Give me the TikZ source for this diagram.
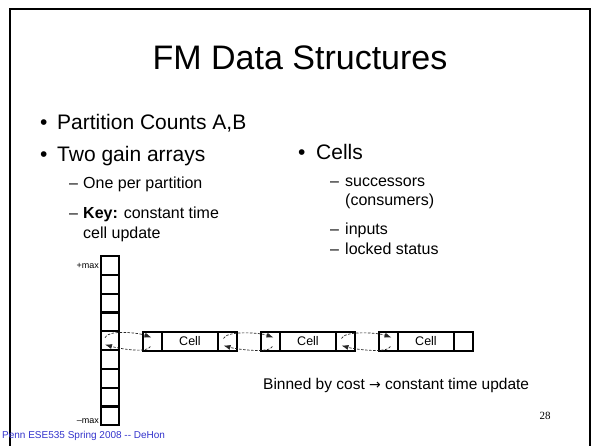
\documentclass[tikz,border=0pt]{standalone}
\usepackage{fontspec}
\setmainfont{Liberation Sans}
\newfontfamily\pagenumfont{Liberation Serif}
\newfontfamily\symfont{DejaVu Sans}
\usetikzlibrary{arrows.meta,calc}
\definecolor{footblue}{RGB}{51,51,204}

\begin{document}
\begin{tikzpicture}[x=1pt,y=-1pt,
  slot/.style={draw, line width=2.2pt, minimum width=18pt, minimum height=18.8pt, inner sep=0pt},
  part/.style={draw, line width=2.2pt, minimum height=19pt, inner sep=0pt},
  link/.style={line width=0.7pt, dash pattern=on 2.5pt off 1.5pt, black!85,
               -{Latex[length=7pt,width=5pt]}},
  title/.style={font=\fontsize{34}{40}\selectfont, anchor=base},
  lvl one/.style={font=\fontsize{21}{25}\selectfont, anchor=base west, inner sep=0pt},
  lvl two/.style={font=\fontsize{16}{19}\selectfont, anchor=base west, inner sep=0pt},
  small/.style={font=\fontsize{9}{10}\selectfont, anchor=base east, inner sep=0pt},
  celltext/.style={font=\fontsize{12.5}{13}\selectfont}]

\useasboundingbox (0,0) rectangle (600,445);

% slide frame (its lower edge lies below the page)
\begin{scope}
  \clip (0,0) rectangle (600,445);
  \draw[line width=1.6pt] (10,9) rectangle (590,470);
\end{scope}

% title
\node[title] (ttl) at (300,69) {FM Data Structures};

% left column
\node[lvl one] (b1) at (40,129) {•};
\node[lvl one] (t1) at (57,129) {Partition Counts A,B};
\node[lvl one] (b2) at (40,161) {•};
\node[lvl one] (t2) at (57,161) {Two gain arrays};
\node[lvl two] (d1) at (69,188) {–};
\node[lvl two] (t3) at (83,188) {One per partition};
\node[lvl two] (d2) at (69,218) {–};
\node[lvl two] (t4) at (83,218) {\textbf{Key:} constant time};
\node[lvl two] (t5) at (83,238) {cell update};

% right column
\node[lvl one] (b3) at (298,159) {•};
\node[lvl one] (t6) at (316,159) {Cells};
\node[lvl two] (d3) at (330,186) {–};
\node[lvl two] (t7) at (345,186) {successors};
\node[lvl two] (t8) at (345,205) {(consumers)};
\node[lvl two] (d4) at (330,234) {–};
\node[lvl two] (t9) at (345,234) {inputs};
\node[lvl two] (d5) at (330,254) {–};
\node[lvl two] (t10) at (345,254) {locked status};

% gain array: nine buckets from +max down to -max
\foreach \i in {1,...,9}
  \node[slot] (a\i) at (110,{256+(\i-0.5)*18.8}) {};
\node[small] (pmax) at (99,268) {+max};
\node[small] (mmax) at (99,423) {–max};

% cell records: prev | Cell | next
\foreach \k/\x in {1/143,2/261,3/379}{
  \node[part, minimum width=19pt] (p\k) at (\x+9.5,341.5) {};
  \node[part, minimum width=56pt, celltext] (v\k) at (\x+47,341.5) {Cell};
  \node[part, minimum width=19pt] (n\k) at (\x+84.5,341.5) {};
}

% doubly linked list pointers
\draw[link] ($(a5.center)+(-5,-3)$) .. controls +(3,-8) and +(-14,-5) .. ($(p1.center)+(-1,-4)$);
\draw[link] ($(p1.center)+(-2,5)$) .. controls +(-3,7) and +(14,4) .. ($(a5.center)+(-5,4)$);
\draw[link] ($(n1.center)+(-4,-3)$) .. controls +(3,-8) and +(-14,-5) .. ($(p2.center)+(3,-4)$);
\draw[link] ($(p2.center)+(2,5)$) .. controls +(-3,7) and +(14,4) .. ($(n1.center)+(-4,4)$);
\draw[link] ($(n2.center)+(-4,-3)$) .. controls +(3,-8) and +(-14,-5) .. ($(p3.center)+(3,-4)$);
\draw[link] ($(p3.center)+(2,5)$) .. controls +(-3,7) and +(14,4) .. ($(n2.center)+(-4,4)$);

% caption under the list
\node[lvl two, font=\fontsize{15.5}{19}\selectfont] (bin) at (263,389)
  {Binned by cost {\symfont\fontsize{14}{16}\selectfont→} constant time update};

% page number and footer
\node[anchor=base, inner sep=0pt, font=\pagenumfont\fontsize{11}{12}\selectfont] (pg) at (545,419) {28};
\node[anchor=base west, inner sep=0pt, text=footblue, font=\fontsize{10}{11}\selectfont] (ft) at (2,438)
  {Penn ESE535 Spring 2008 -{}- DeHon};
\end{tikzpicture}
\end{document}
